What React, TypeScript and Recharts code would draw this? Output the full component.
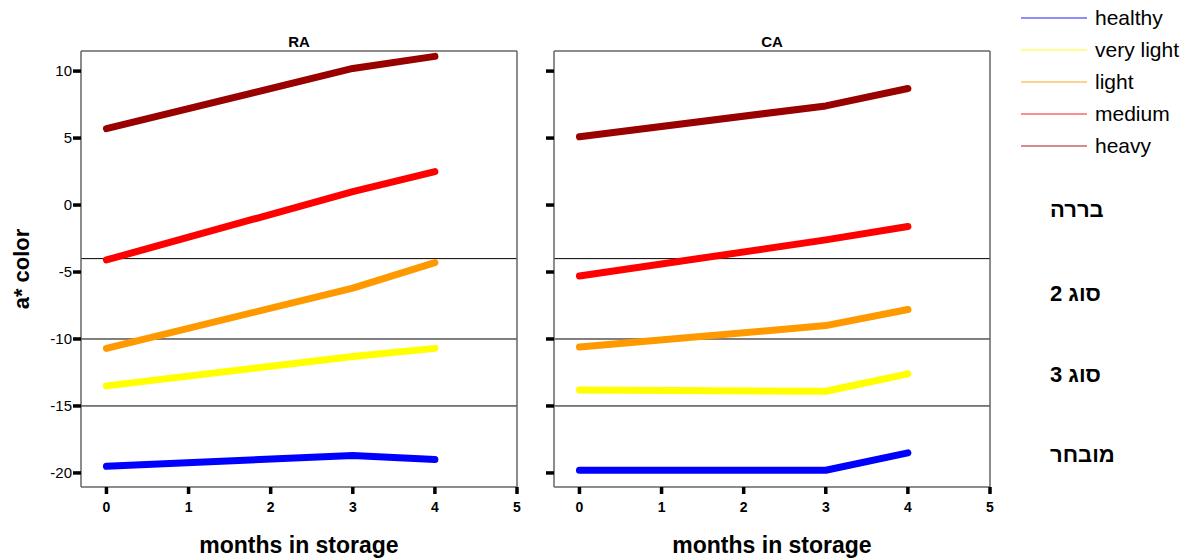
import React from 'react'
import {
  LineChart, Line, XAxis, YAxis, ReferenceLine
} from 'recharts'

// months of storage where measurements were taken
const months = [0, 3, 4]

// RA storage
const raHeavy = [5.7, 10.2, 11.1]
const raMedium = [-4.1, 1.0, 2.5]
const raLight = [-10.7, -6.2, -4.3]
const raVeryLight = [-13.5, -11.3, -10.7]
const raHealthy = [-19.5, -18.7, -19.0]

// CA storage
const caHeavy = [5.1, 7.4, 8.7]
const caMedium = [-5.3, -2.6, -1.6]
const caLight = [-10.6, -9.0, -7.8]
const caVeryLight = [-13.8, -13.9, -12.6]
const caHealthy = [-19.8, -19.8, -18.5]

const seriesKeys = ['heavy', 'medium', 'light', 'veryLight', 'healthy']
const legendKeys = ['healthy', 'veryLight', 'light', 'medium', 'heavy']
const seriesNames: Record<string, string> = {
  healthy: 'healthy', veryLight: 'very light', light: 'light', medium: 'medium', heavy: 'heavy'
}
const seriesColors: Record<string, string> = {
  healthy: '#0000ff', veryLight: '#ffff00', light: '#ff9900', medium: '#ff0000', heavy: '#990000'
}

const xTicks = [0, 1, 2, 3, 4, 5]
const yTicks = [-20, -15, -10, -5, 0, 5, 10]
const gradeCuts = [-4, -10, -15]
const gradeLabels = ['בררה', 'סוג 2', 'סוג 3', 'מובחר']

const buildRows = (h: number[], m: number[], l: number[], v: number[], he: number[]) =>
  months.map((month, i) => ({
    month, heavy: h[i], medium: m[i], light: l[i], veryLight: v[i], healthy: he[i]
  }))

const raData = buildRows(raHeavy, raMedium, raLight, raVeryLight, raHealthy)
const caData = buildRows(caHeavy, caMedium, caLight, caVeryLight, caHealthy)

const FONT = '"Liberation Sans", Arial, Helvetica, sans-serif'
const X_DOMAIN: [number, number] = [-0.31, 5]
const Y_DOMAIN: [number, number] = [-21.05, 11.5]

interface PanelProps {
  data: typeof raData
  title: string
  width: number
  first?: boolean
}

function Panel({ data, title, width, first }: PanelProps) {
  return (
    <LineChart
      width={width}
      height={560}
      data={data}
      margin={{ top: 0, right: width - 81 - 436 - 1, bottom: 0, left: 0 }}
    >
      <XAxis
        dataKey="month"
        type="number"
        domain={X_DOMAIN}
        ticks={xTicks}
        allowDataOverflow
        height={73}
        axisLine={{ stroke: '#666', strokeWidth: 1.5 }}
        tickLine={{ stroke: '#000', strokeWidth: 3.5 }}
        tickSize={7}
        tickMargin={8}
        tick={{ fill: '#000', fontSize: 14, fontWeight: 'bold', fontFamily: FONT }}
        label={{
          value: 'months in storage', position: 'insideTop', offset: 50,
          style: { fill: '#000', fontSize: 23, fontWeight: 'bold', fontFamily: FONT }
        }}
      />
      <XAxis
        xAxisId="top"
        orientation="top"
        type="number"
        domain={X_DOMAIN}
        allowDataOverflow
        height={51}
        tick={false}
        tickLine={false}
        axisLine={{ stroke: '#666', strokeWidth: 1.5 }}
        label={{
          value: title, position: 'insideBottom', offset: 4,
          style: { fill: '#000', fontSize: 15, fontWeight: 'bold', fontFamily: FONT }
        }}
      />
      <YAxis
        type="number"
        domain={Y_DOMAIN}
        ticks={yTicks}
        allowDataOverflow
        width={81}
        axisLine={{ stroke: '#666', strokeWidth: 1.5 }}
        tickLine={{ stroke: '#000', strokeWidth: 3.5 }}
        tickSize={8}
        tickMargin={1}
        tickFormatter={(v: number) => (first ? String(v) : '')}
        tick={{ fill: '#000', fontSize: 15, fontFamily: FONT }}
        label={first ? {
          value: 'a* color', position: 'insideLeft', offset: 21, angle: -90,
          style: { textAnchor: 'middle', fill: '#000', fontSize: 22, fontWeight: 'bold', fontFamily: FONT }
        } : undefined}
      />
      <YAxis
        yAxisId="right"
        orientation="right"
        type="number"
        domain={Y_DOMAIN}
        allowDataOverflow
        width={1}
        tick={false}
        tickLine={false}
        axisLine={{ stroke: '#666', strokeWidth: 1.5 }}
      />

      {gradeCuts.map((y) => (
        <ReferenceLine key={y} y={y} stroke="#000" strokeWidth={1} />
      ))}

      {seriesKeys.map((key) => (
        <Line
          key={key}
          type="linear"
          dataKey={key}
          name={seriesNames[key]}
          stroke={seriesColors[key]}
          strokeWidth={7}
          strokeLinecap="round"
          strokeLinejoin="round"
          dot={false}
          activeDot={false}
          isAnimationActive={false}
        />
      ))}
    </LineChart>
  )
}

export default function App() {
  return (
    <div style={{ position: 'absolute', left: 0, top: 0, width: 1186, height: 560, background: '#fff', fontFamily: FONT }}>
      <div style={{ position: 'absolute', left: 0, top: 0 }}>
        <Panel data={raData} title="RA" width={560} first />
      </div>
      <div style={{ position: 'absolute', left: 473, top: 0 }}>
        <Panel data={caData} title="CA" width={713} />
      </div>

      {/* legend */}
      <div style={{ position: 'absolute', left: 1021, top: 2 }}>
        {legendKeys.map((key) => (
          <div key={key} style={{ display: 'flex', alignItems: 'center', height: 32 }}>
            <svg width={66} height={4} style={{ display: 'block' }}>
              <line x1={0} x2={66} y1={2} y2={2} stroke={seriesColors[key]} strokeOpacity={0.6} strokeWidth={1.5} />
            </svg>
            <span style={{ marginLeft: 8, fontSize: 21, color: '#000', lineHeight: '32px' }}>
              {seriesNames[key]}
            </span>
          </div>
        ))}
      </div>

      {/* grade labels */}
      {gradeLabels.map((g, i) => (
        <div
          key={g}
          dir="rtl"
          style={{
            position: 'absolute', left: 1050, top: [199, 283, 364, 444][i],
            fontSize: 22, lineHeight: '22px', fontWeight: 'bold', color: '#000', whiteSpace: 'nowrap'
          }}
        >
          {g}
        </div>
      ))}
    </div>
  )
}
